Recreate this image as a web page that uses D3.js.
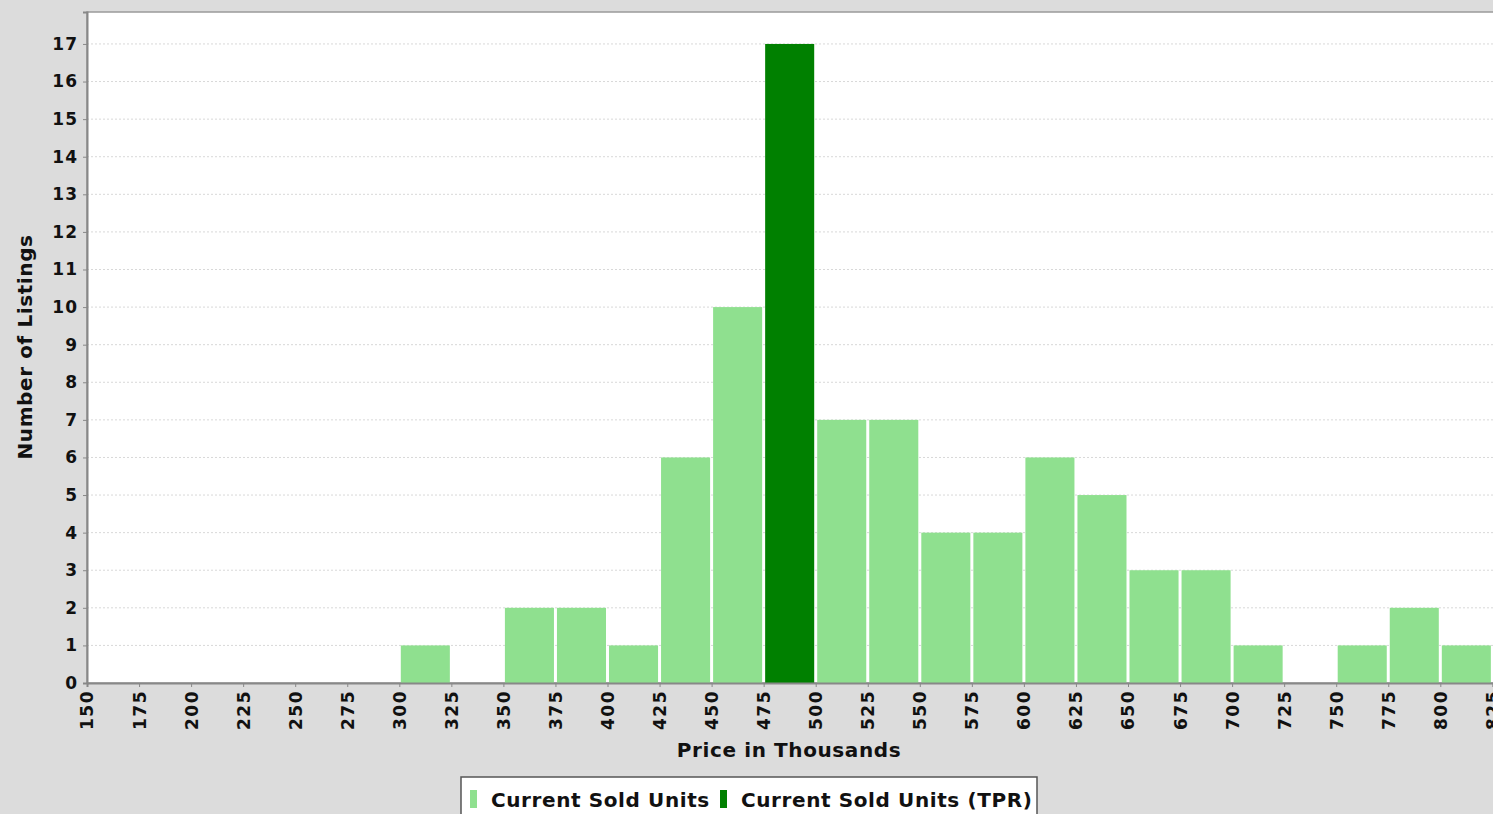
<!DOCTYPE html>
<html><head><meta charset="utf-8">
<script src="https://cdn.jsdelivr.net/npm/d3@7"></script>
<style>
html,body{margin:0;padding:0;background:#dcdcdc;overflow:hidden;}
svg{display:block;}
</style></head>
<body>
<svg id="chart" width="1493" height="814"></svg>
<script>
// ---- data ----
const binStarts = [300, 350, 375, 400, 425, 450, 475, 500, 525, 550, 575, 600, 625, 650, 675, 700, 750, 775, 800];
const soldUnits = [1, 2, 2, 1, 6, 10, 17, 7, 7, 4, 4, 6, 5, 3, 3, 1, 1, 2, 1];
const tprFlags  = [0, 0, 0, 0, 0, 0, 1, 0, 0, 0, 0, 0, 0, 0, 0, 0, 0, 0, 0];
const binWidth = 25;
const xTicks = [150,175,200,225,250,275,300,325,350,375,400,425,450,475,500,525,550,575,600,625,650,675,700,725,750,775,800,825];
const yTicks = [0,1,2,3,4,5,6,7,8,9,10,11,12,13,14,15,16,17];
const seriesNames = ["Current Sold Units", "Current Sold Units (TPR)"];
const seriesColors = ["#8fe08f", "#008000"];

const svg = d3.select("#chart");
const plotLeft = 87, plotTop = 12, plotBottom = 683;
const x = d3.scaleLinear().domain([150, 850]).range([plotLeft, plotLeft + 28 * 52.05]);
const y = d3.scaleLinear().domain([0, 17.85]).range([plotBottom, plotTop]);
const fontFam = "'DejaVu Sans', sans-serif";

// plot background
svg.append("rect").attr("x", plotLeft).attr("y", plotTop)
  .attr("width", 1600).attr("height", plotBottom - plotTop)
  .attr("fill", "#ffffff").attr("stroke", "#9a9a9a").attr("stroke-width", 1.5);

// gridlines
svg.append("g").selectAll("line").data(yTicks.filter(d => d > 0)).join("line")
  .attr("x1", plotLeft).attr("x2", 1600)
  .attr("y1", d => y(d)).attr("y2", d => y(d))
  .attr("stroke", "#d8d8d8").attr("stroke-width", 1).attr("stroke-dasharray", "2,2");

// bars
const bars = binStarts.map((s, i) => ({s, v: soldUnits[i], tpr: tprFlags[i]}));
svg.append("g").selectAll("rect").data(bars).join("rect")
  .attr("x", d => x(d.s) + 1.5)
  .attr("y", d => y(d.v))
  .attr("width", d => x(d.s + binWidth) - x(d.s) - 3)
  .attr("height", d => y(0) - y(d.v))
  .attr("fill", d => d.tpr ? seriesColors[1] : seriesColors[0]);

// axes
const yAxis = d3.axisLeft(y).tickValues(yTicks).tickSize(4).tickPadding(5).tickFormat(d3.format("d"));
const gy = svg.append("g").attr("transform", `translate(${plotLeft},0)`).call(yAxis);
gy.select(".domain").attr("stroke", "#888").attr("stroke-width", 2);
gy.selectAll(".tick line").attr("stroke", "#888");
gy.selectAll(".tick text").attr("font-family", fontFam).attr("font-weight", "bold")
  .attr("font-size", 17).attr("letter-spacing", "1px").attr("fill", "#111");

const xAxis = d3.axisBottom(x).tickValues(xTicks).tickSize(4).tickFormat(d3.format("d"));
const gx = svg.append("g").attr("transform", `translate(0,${plotBottom})`).call(xAxis);
gx.select(".domain").attr("stroke", "#888").attr("stroke-width", 2);
gx.selectAll(".tick line").attr("stroke", "#888");
gx.selectAll(".tick text")
  .attr("font-family", fontFam).attr("font-weight", "bold").attr("font-size", 17)
  .attr("letter-spacing", "1.5px").attr("fill", "#111")
  .attr("transform", "rotate(-90)")
  .attr("text-anchor", "end").attr("x", -7).attr("y", 0).attr("dy", "0.35em");

// axis titles
svg.append("text").attr("x", 789).attr("y", 757).attr("text-anchor", "middle")
  .attr("font-family", fontFam).attr("font-weight", "bold").attr("font-size", 20)
  .attr("letter-spacing", "0.6px").attr("fill", "#111")
  .text("Price in Thousands");
svg.append("text").attr("transform", "translate(32,347) rotate(-90)").attr("text-anchor", "middle")
  .attr("font-family", fontFam).attr("font-weight", "bold").attr("font-size", 20)
  .attr("letter-spacing", "0.6px").attr("fill", "#111")
  .text("Number of Listings");

// legend
const lg = svg.append("g");
lg.append("rect").attr("x", 461).attr("y", 777).attr("width", 576).attr("height", 50)
  .attr("fill", "#ffffff").attr("stroke", "#555").attr("stroke-width", 1.5);
const legendX = [470, 720];
seriesNames.forEach((name, i) => {
  lg.append("rect").attr("x", legendX[i]).attr("y", 790).attr("width", 7).attr("height", 18).attr("fill", seriesColors[i]);
  lg.append("text").attr("x", legendX[i] + 21).attr("y", 807)
    .attr("font-family", fontFam).attr("font-weight", "bold").attr("font-size", 20)
    .attr("letter-spacing", "0.6px").attr("fill", "#111")
    .text(name);
});
</script>
</body></html>
